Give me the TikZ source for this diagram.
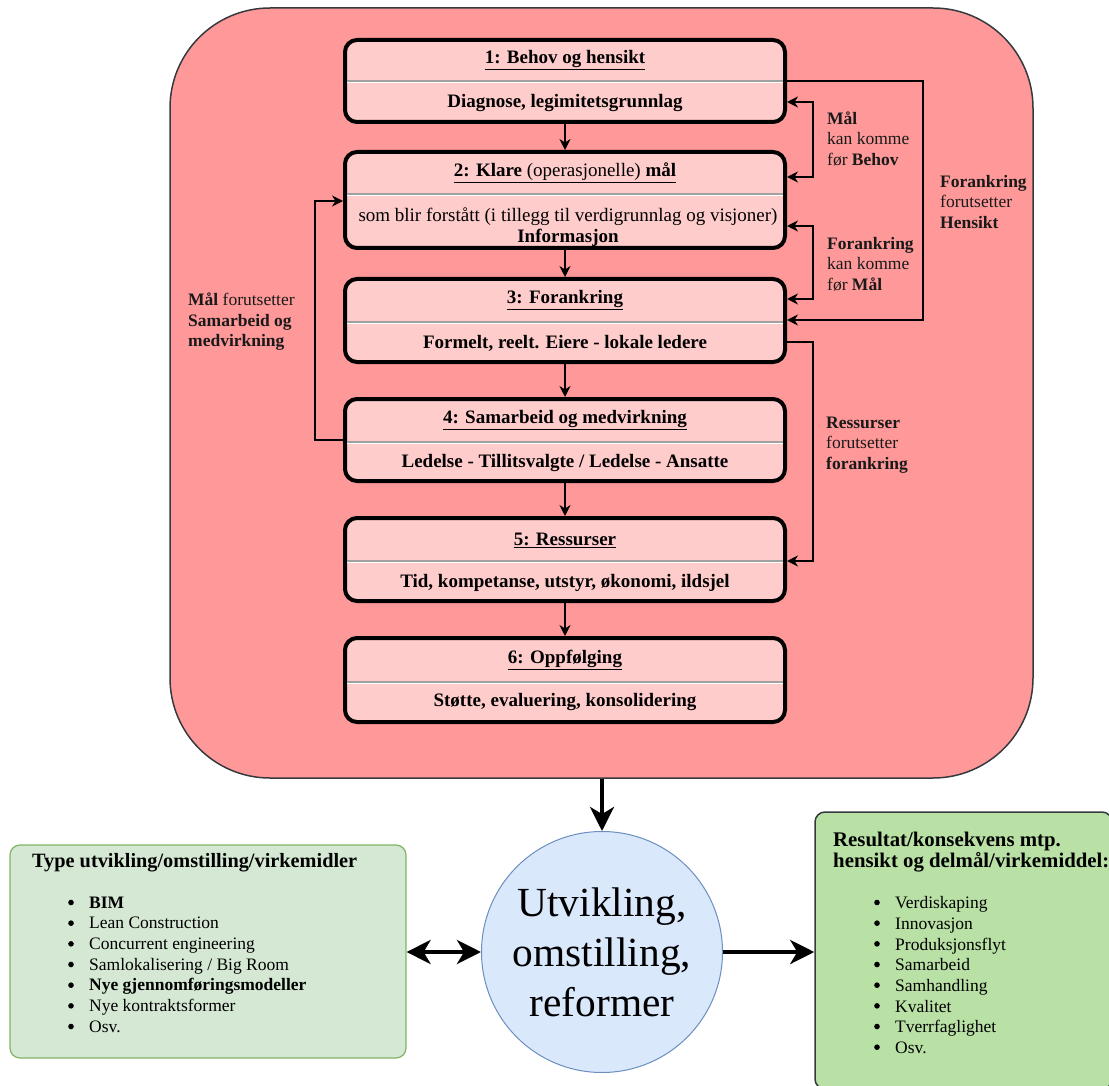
\documentclass[tikz,border=0pt]{standalone}
\usepackage{fontspec}
\setmainfont{Liberation Serif}
\usetikzlibrary{arrows.meta,calc}
\definecolor{bigred}{HTML}{FF9999}
\definecolor{boxred}{HTML}{FFCCCC}
\definecolor{darkstroke}{HTML}{36393D}
\definecolor{lgreen}{HTML}{D5E8D4}
\definecolor{lgreenstroke}{HTML}{82B366}
\definecolor{mgreen}{HTML}{B9E0A5}
\definecolor{cblue}{HTML}{DAE8FC}
\definecolor{cbluestroke}{HTML}{6C8EBF}
\definecolor{sepgray}{HTML}{A0A0A0}
\begin{document}
\begin{tikzpicture}[x=1pt,y=-1pt,
  stepbox/.style={draw=black, line width=4pt, fill=boxred, rounded corners=12pt, minimum width=440pt, inner sep=0pt},
  ttl/.style={font=\fontsize{19}{22}\selectfont\bfseries, inner sep=0pt},
  bodytxt/.style={font=\fontsize{19}{21}\selectfont, inner sep=0pt, align=center},
  bodybf/.style={font=\fontsize{19}{21}\selectfont\bfseries, inner sep=0pt, align=center},
  lbl/.style={font=\fontsize{17.5}{20.5}\selectfont, inner sep=0pt, align=left, anchor=west, text=black!90},
  sm/.style={line width=1.4pt, -{Stealth[length=11pt,width=11pt,inset=3.5pt]}},
  smboth/.style={line width=1.4pt, {Stealth[length=11pt,width=11pt,inset=3.5pt]}-{Stealth[length=11pt,width=11pt,inset=3.5pt]}},
  big/.style={line width=4pt, -{Stealth[length=24pt,width=24pt,inset=7pt]}},
  bigboth/.style={line width=4pt, {Stealth[length=24pt,width=24pt,inset=7pt]}-{Stealth[length=24pt,width=24pt,inset=7pt]}},
  sepline/.style={draw=sepgray, line width=2pt},
  listtxt/.style={font=\fontsize{17.5}{20.67}\selectfont, inner sep=0pt, align=left, anchor=north west},
  bulletdot/.style={fill=black, draw=none},
]
\useasboundingbox (0,0) rectangle (1109,1086);

% big red container
\node[draw=darkstroke, line width=1.5pt, fill=bigred, rounded corners=100pt, minimum width=863pt, minimum height=770pt, inner sep=0pt] (bigbox) at (601.5,393) {};

% step boxes
\node[stepbox, minimum height=82pt] (b1) at (565,81) {};
\node[stepbox, minimum height=96pt] (b2) at (565,200) {};
\node[stepbox, minimum height=83pt] (b3) at (565,320.5) {};
\node[stepbox, minimum height=82pt] (b4) at (565,440) {};
\node[stepbox, minimum height=83pt] (b5) at (565,559.5) {};
\node[stepbox, minimum height=84pt] (b6) at (565,680) {};

% separators
\foreach \s in {81,194,322,442,561,682}{
  \draw[sepline] (347,\s) -- (783,\s);
  \draw[white, line width=1pt] (347,\s+1.8) -- (783,\s+1.8);
}

% titles
\node[ttl] (t1) at (565,60) {\underline{1: Behov og hensikt}};
\node[ttl] (t2) at (565,173) {\underline{2: Klare \textmd{(operasjonelle)} mål}};
\node[ttl] (t3) at (565,300) {\underline{3: Forankring}};
\node[ttl] (t4) at (565,420) {\underline{4: Samarbeid og medvirkning}};
\node[ttl] (t5) at (565,540) {\underline{5: Ressurser}};
\node[ttl] (t6) at (565,660) {\underline{6: Oppfølging}};

% bodies
\node[bodybf] (d1) at (565,103) {Diagnose, legimitetsgrunnlag};
\node[bodytxt] (d2) at (568,227.5) {som blir forstått (i tillegg til verdigrunnlag og visjoner)\\\textbf{Informasjon}};
\node[bodybf] (d3) at (565,343) {Formelt, reelt. Eiere - lokale ledere};
\node[bodybf] (d4) at (565,463) {Ledelse - Tillitsvalgte / Ledelse - Ansatte};
\node[bodybf] (d5) at (565,583) {Tid, kompetanse, utstyr, økonomi, ildsjel};
\node[bodybf] (d6) at (565,702) {Støtte, evaluering, konsolidering};

% vertical flow
\draw[sm] (b1) -- (b2);
\draw[sm] (b2) -- (b3);
\draw[sm] (b3) -- (b4);
\draw[sm] (b4) -- (b5);
\draw[sm] (b5) -- (b6);

% right side connectors
\coordinate (h1) at (923,81);
\coordinate (h2) at (923,320);
\draw[sm] (b1.east) -- (h1) -- (h2) -- (b3.east |- h2);

\coordinate (m1) at (813,102);
\coordinate (m2) at (813,177);
\draw[smboth] (b1.east |- m1) -- (m1) -- (m2) -- (b2.east |- m2);

\coordinate (f1) at (813,226);
\coordinate (f2) at (813,299);
\draw[smboth] (b2.east |- f1) -- (f1) -- (f2) -- (b3.east |- f2);

\coordinate (r1) at (813,342);
\coordinate (r2) at (813,561);
\draw[sm] (b3.east |- r1) -- (r1) -- (r2) -- (b5.east |- r2);

% left connector
\coordinate (l1) at (315,440);
\coordinate (l2) at (315,201);
\draw[sm] (b4.west) -- (l1) -- (l2) -- (b2.west |- l2);

% labels
\node[lbl] (lab1) at (827,139) {\textbf{Mål}\\kan komme\\før \textbf{Behov}};
\node[lbl] (lab2) at (827,264) {\textbf{Forankring}\\kan komme\\før \textbf{Mål}};
\node[lbl] (lab3) at (940,202) {\textbf{Forankring}\\forutsetter\\\textbf{Hensikt}};
\node[lbl] (lab4) at (826,445) {\textbf{Ressurser}\\forutsetter\\\textbf{forankring}};
\node[lbl] (lab5) at (188,322) {\textbf{Mål} forutsetter\\\textbf{Samarbeid og}\\\textbf{medvirkning}};

% bottom part
\node[circle, draw=cbluestroke, line width=1pt, fill=cblue, minimum size=241pt, inner sep=0pt,
      align=center, font=\fontsize{41.4}{50}\selectfont] (circ) at (602,952) {Utvikling,\\omstilling,\\reformer};

\node[draw=lgreenstroke, line width=1.2pt, fill=lgreen, rounded corners=10pt, minimum width=396pt, minimum height=213pt, inner sep=0pt] (lbox) at (208,951.5) {};
\node[draw=darkstroke, line width=1.5pt, fill=mgreen, rounded corners=10pt, minimum width=297pt, minimum height=277pt, inner sep=0pt] (rbox) at (963.5,950.5) {};

\node[inner sep=0pt, anchor=west, font=\fontsize{20.3}{24}\selectfont\bfseries] (ltitle) at (32,863) {Type utvikling/omstilling/virkemidler};
\node[listtxt] (llist) at (89,896.5) {%
\textbf{BIM}\\
Lean Construction\\
Concurrent engineering\\
Samlokalisering / Big Room\\
\textbf{Nye gjennomføringsmodeller}\\
Nye kontraktsformer\\
Osv.};
\foreach \i in {0,...,6}{
  \fill[bulletdot] (71,902.5+\i*20.67) circle[radius=2.8pt];
}

\node[inner sep=0pt, anchor=west, align=left, font=\fontsize{20.8}{21}\selectfont\bfseries] (rtitle) at (833,852.5) {Resultat/konsekvens mtp.\\hensikt og delmål/virkemiddel:};
\node[listtxt] (rlist) at (895,896.5) {%
Verdiskaping\\
Innovasjon\\
Produksjonsflyt\\
Samarbeid\\
Samhandling\\
Kvalitet\\
Tverrfaglighet\\
Osv.};
\foreach \i in {0,...,7}{
  \fill[bulletdot] (877,902.5+\i*20.67) circle[radius=2.8pt];
}

\draw[big] (bigbox.south -| circ.north) -- (circ.north);
\draw[bigboth] (lbox.east |- circ.center) -- (circ.west);
\draw[big] (circ.east) -- (rbox.west |- circ.center);
\end{tikzpicture}
\end{document}
